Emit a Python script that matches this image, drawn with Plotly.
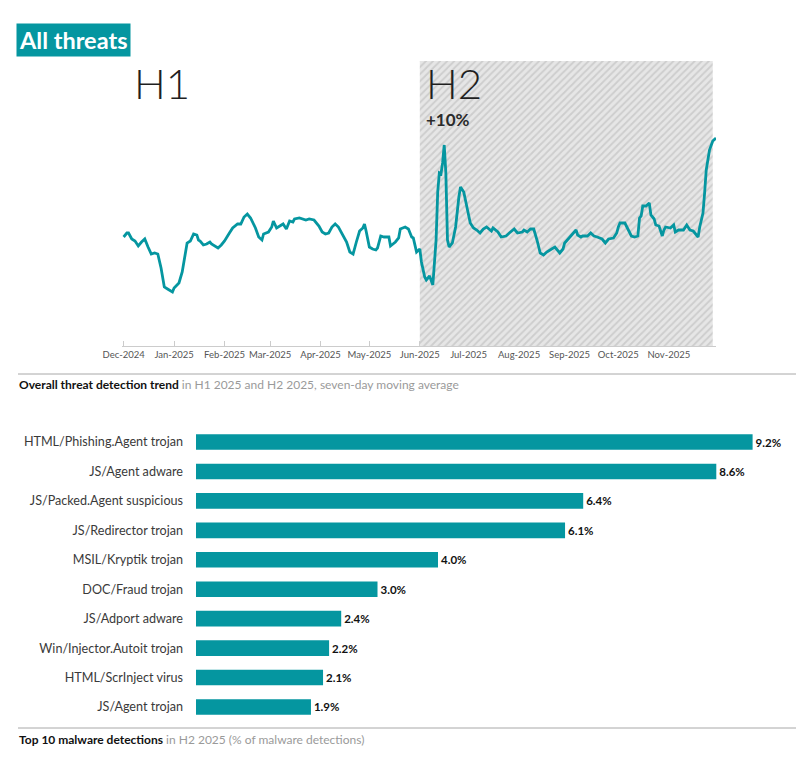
import plotly.graph_objects as go

# ---------------- data: overall threat detection trend (relative index, 7-day moving average)
trend_dates = [
    "2024-12-01","2024-12-03","2024-12-04","2024-12-06","2024-12-08","2024-12-10","2024-12-12","2024-12-14",
    "2024-12-16","2024-12-18","2024-12-20","2024-12-22","2024-12-24","2024-12-26","2024-12-28","2024-12-31",
    "2025-01-01","2025-01-04","2025-01-06","2025-01-08","2025-01-09","2025-01-11","2025-01-13","2025-01-15",
    "2025-01-16","2025-01-17","2025-01-19","2025-01-21","2025-01-23","2025-01-24","2025-01-26","2025-01-28","2025-01-30",
    "2025-02-01","2025-02-04","2025-02-06","2025-02-09","2025-02-11","2025-02-13","2025-02-15","2025-02-17",
    "2025-02-20","2025-02-22","2025-02-24","2025-02-25","2025-02-28",
    "2025-03-02","2025-03-03","2025-03-05","2025-03-07","2025-03-09","2025-03-11","2025-03-13","2025-03-15",
    "2025-03-16","2025-03-19","2025-03-21","2025-03-23","2025-03-25","2025-03-28","2025-03-31",
    "2025-04-02","2025-04-04","2025-04-06","2025-04-08","2025-04-10","2025-04-12","2025-04-15","2025-04-17",
    "2025-04-19","2025-04-21","2025-04-23","2025-04-25","2025-04-27","2025-04-28","2025-04-29",
    "2025-05-01","2025-05-03","2025-05-05","2025-05-06","2025-05-08","2025-05-10","2025-05-13","2025-05-14",
    "2025-05-17","2025-05-19","2025-05-20","2025-05-23","2025-05-25","2025-05-27","2025-05-28","2025-05-30",
    "2025-06-01","2025-06-02","2025-06-04","2025-06-05","2025-06-07","2025-06-09","2025-06-11","2025-06-12",
    "2025-06-13","2025-06-14","2025-06-15","2025-06-16","2025-06-17","2025-06-18","2025-06-19","2025-06-21",
    "2025-06-23","2025-06-25","2025-06-26","2025-06-28","2025-06-30",
    "2025-07-02","2025-07-04","2025-07-06","2025-07-08","2025-07-10","2025-07-12","2025-07-15","2025-07-16",
    "2025-07-19","2025-07-21","2025-07-24","2025-07-26","2025-07-29","2025-07-31",
    "2025-08-03","2025-08-04","2025-08-06","2025-08-08","2025-08-10","2025-08-12","2025-08-14","2025-08-16",
    "2025-08-18","2025-08-21","2025-08-23","2025-08-26","2025-08-28","2025-08-29",
    "2025-09-01","2025-09-03","2025-09-05","2025-09-06","2025-09-08","2025-09-09","2025-09-12","2025-09-14",
    "2025-09-16","2025-09-18","2025-09-21","2025-09-23","2025-09-25","2025-09-28","2025-09-30",
    "2025-10-01","2025-10-02","2025-10-05","2025-10-07","2025-10-09","2025-10-11","2025-10-13","2025-10-14",
    "2025-10-15","2025-10-16","2025-10-18","2025-10-20","2025-10-21","2025-10-23","2025-10-24","2025-10-26",
    "2025-10-28","2025-10-29","2025-10-30",
    "2025-11-02","2025-11-04","2025-11-05","2025-11-07","2025-11-10","2025-11-12","2025-11-14","2025-11-16",
    "2025-11-17","2025-11-19","2025-11-20","2025-11-22","2025-11-23","2025-11-24","2025-11-26","2025-11-28","2025-11-30",
]
trend_values = [
    109,113,113,107,105,100,104,107,99,92,93,92,78,59,57,54,
    58,63,74,93,103,105,112,111,106,105,101,102,104,102,100,98,101,
    105,113,118,122,122,129,132,128,118,109,106,112,114,
    119,125,118,120,122,117,125,124,127,128,127,126,127,126,120,
    114,112,113,119,122,119,109,104,94,92,104,115,118,122,115,
    99,97,96,98,110,109,109,100,104,108,117,119,117,109,108,94,
    97,84,69,66,70,61,106,154,173,172,183,201,173,106,99,103,119,149,159,154,139,
    123,118,116,113,117,119,115,118,114,109,110,113,117,113,
    114,116,114,117,117,106,93,91,94,97,99,93,97,103,
    109,113,116,111,109,110,110,113,110,109,107,103,107,108,113,
    119,123,123,117,110,109,110,128,130,140,140,143,131,127,121,120,110,116,119,
    118,121,114,116,116,121,116,115,113,109,119,133,153,176,196,205,208,
]
axis_range = ["2024-11-30", "2025-11-30"]
h2_period = ["2025-06-01", "2025-11-28"]
h2_change = "+10%"

# ---------------- data: top 10 malware detections
malware_names = [
    "HTML/Phishing.Agent trojan", "JS/Agent adware", "JS/Packed.Agent suspicious",
    "JS/Redirector trojan", "MSIL/Kryptik trojan", "DOC/Fraud trojan", "JS/Adport adware",
    "Win/Injector.Autoit trojan", "HTML/ScrInject virus", "JS/Agent trojan",
]
malware_share = [9.2, 8.6, 6.4, 6.1, 4.0, 3.0, 2.4, 2.2, 2.1, 1.9]

TEAL = "#0596a0"
W, H = 812, 759
OFF = 8  # page body margin


def px(x):
    return (x - OFF) / W


def py(y):
    return 1 - (y - OFF) / H


fig = go.Figure()

# H2 shaded period (hatched) on base axis
fig.add_trace(go.Scatter(
    x=[h2_period[0], h2_period[0], h2_period[1], h2_period[1], h2_period[0]],
    y=[0, 1, 1, 0, 0], xaxis="x", yaxis="y",
    mode="lines", line=dict(width=0), fill="toself",
    fillcolor="#e4e4e4",
    fillpattern=dict(shape="/", bgcolor="#e6e6e6", fgcolor="#cdcdcd", size=5, solidity=0.35),
    hoverinfo="skip", showlegend=False,
))

# trend line on overlaying axis (drawn above the shade)
fig.add_trace(go.Scatter(
    x=trend_dates, y=trend_values, xaxis="x", yaxis="y2",
    mode="lines", line=dict(color=TEAL, width=2.8, shape="linear"),
    showlegend=False,
))

# bars
fig.add_trace(go.Bar(
    x=malware_share, y=malware_names, orientation="h", xaxis="x3", yaxis="y3",
    marker=dict(color=TEAL, line=dict(width=0)),
    texttemplate="<b>%{x:.1f}%</b>", textposition="outside", cliponaxis=False,
    textfont=dict(family="Lato", size=11.5, color="#111"),
    showlegend=False,
))

line_dom_y = [py(346), py(61)]
fig.update_layout(
    width=W, height=H, margin=dict(l=0, r=0, t=0, b=0),
    paper_bgcolor="white", plot_bgcolor="rgba(0,0,0,0)",
    template="none",
    font=dict(family="Lato", color="#333"),
    bargap=0.47,
    xaxis=dict(
        domain=[px(122), px(716)], range=axis_range, type="date",
        anchor="y", showgrid=False, zeroline=False,
        showline=True, linecolor="#cccccc", linewidth=1,
        ticks="inside", ticklen=5, tickcolor="#cccccc",
        tick0="2024-12-01", dtick="M1", tickformat="%b-%Y",
        tickfont=dict(family="Lato", size=9.5, color="#555"),
        layer="below traces", automargin=False,
    ),
    yaxis=dict(
        domain=line_dom_y, range=[0, 1], visible=False, automargin=False,
    ),
    yaxis2=dict(
        domain=line_dom_y, range=[0, 285], visible=False, overlaying="y", automargin=False,
    ),
    xaxis3=dict(
        domain=[px(196), px(801)], range=[0, 10], anchor="y3",
        visible=False, automargin=False,
    ),
    yaxis3=dict(
        domain=[py(721.7), py(427.3)], anchor="x3", autorange="reversed",
        showgrid=False, zeroline=False, showline=False, ticks="",
        ticklabelstandoff=12,
        tickfont=dict(family="Lato", size=12.6, color="#3a3a3a"),
        automargin=False,
    ),
)

annotations = [
    dict(x=px(16), y=py(23), xref="paper", yref="paper", xanchor="left", yanchor="top",
         text="<b>All threats</b>", showarrow=False, bgcolor=TEAL, borderpad=2,
         font=dict(family="Lato", size=23.5, color="white")),
    dict(x=px(132), y=py(83), xref="paper", yref="paper", xanchor="left", yanchor="middle",
         text="H1", showarrow=False, font=dict(family="Lato", size=42, color="#1f1f1f", weight=300)),
    dict(x=px(424), y=py(83), xref="paper", yref="paper", xanchor="left", yanchor="middle",
         text="H2", showarrow=False, font=dict(family="Lato", size=42, color="#1f1f1f", weight=300)),
    dict(x=px(424), y=py(119), xref="paper", yref="paper", xanchor="left", yanchor="middle",
         text="<b>" + h2_change + "</b>", showarrow=False, font=dict(family="Lato", size=17, color="#2b2b2b")),
    dict(x=px(17), y=py(384), xref="paper", yref="paper", xanchor="left", yanchor="middle",
         text="<b>Overall threat detection trend</b> <span style='color:#9a9a9a'>in H1 2025 and H2 2025, seven-day moving average</span>",
         showarrow=False, font=dict(family="Lato", size=12, color="#111")),
    dict(x=px(17), y=py(739), xref="paper", yref="paper", xanchor="left", yanchor="middle",
         text="<b>Top 10 malware detections</b> <span style='color:#9a9a9a'>in H2 2025 (% of malware detections)</span>",
         showarrow=False, font=dict(family="Lato", size=12, color="#111")),
]
fig.update_layout(annotations=annotations)

fig.update_layout(shapes=[
    dict(type="line", xref="paper", yref="paper", x0=px(18), x1=px(796), y0=py(374), y1=py(374),
         line=dict(color="#a8a8a8", width=1)),
    dict(type="line", xref="paper", yref="paper", x0=px(18), x1=px(796), y0=py(728), y1=py(728),
         line=dict(color="#a8a8a8", width=1)),
])

fig.write_html("out.html")
